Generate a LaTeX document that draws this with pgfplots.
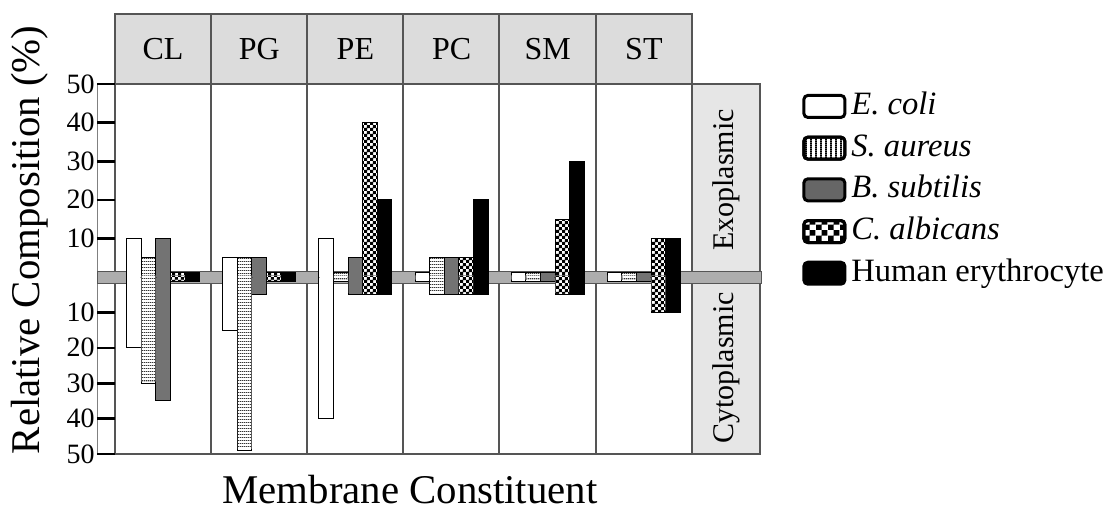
\documentclass[border=0pt]{standalone}
\usepackage{pgfplots}
\pgfplotsset{compat=1.18}
\usepackage{pgfplotstable}
\usepackage{fontspec}
\setmainfont{Liberation Serif}
\usetikzlibrary{patterns}

\pgfdeclarepatternformonly{finehlines}{\pgfqpoint{0pt}{0pt}}{\pgfqpoint{1pt}{1.7pt}}{\pgfqpoint{1pt}{1.7pt}}{%
  \pgfpathrectangle{\pgfqpoint{-0.1pt}{0pt}}{\pgfqpoint{1.2pt}{0.55pt}}\pgfusepath{fill}}
\pgfdeclarepatternformonly{finechecker}{\pgfpointorigin}{\pgfqpoint{3.2pt}{3.2pt}}{\pgfqpoint{3.2pt}{3.2pt}}{%
  \pgfpathrectangle{\pgfpointorigin}{\pgfqpoint{1.65pt}{1.65pt}}%
  \pgfpathrectangle{\pgfqpoint{1.6pt}{1.6pt}}{\pgfqpoint{1.65pt}{1.65pt}}\pgfusepath{fill}}
\pgfdeclarepatternformonly{legvlines}{\pgfpointorigin}{\pgfqpoint{2.3pt}{1pt}}{\pgfqpoint{2.3pt}{1pt}}{%
  \pgfpathrectangle{\pgfqpoint{0pt}{-0.1pt}}{\pgfqpoint{1pt}{1.2pt}}\pgfusepath{fill}}
\pgfdeclarepatternformonly{legchecker}{\pgfpointorigin}{\pgfqpoint{6pt}{5.4pt}}{\pgfqpoint{6pt}{5.4pt}}{%
  \pgfpathrectangle{\pgfpointorigin}{\pgfqpoint{3pt}{2.7pt}}%
  \pgfpathrectangle{\pgfqpoint{3pt}{2.7pt}}{\pgfqpoint{3pt}{2.7pt}}\pgfusepath{fill}}

\definecolor{hdr}{HTML}{DCDCDC}
\definecolor{side}{HTML}{E6E6E6}
\definecolor{bandc}{HTML}{ADADAD}
\definecolor{frm}{HTML}{555555}
\definecolor{bsub}{HTML}{737373}
\definecolor{legbsub}{HTML}{666666}

% exoplasmic (upper) portions, %
\pgfplotstableread{
x ecoli saureus bsub calb human
0 10  5    10  1.2 1.2
1 5   5    5   1.2 1.2
2 10  1.2  5   40  20
3 1.2 5    5   5   20
4 1.2 1.2  1.2 15  30
5 1.2 1.2  1.2 10  10
}\exo
% cytoplasmic (lower) portions, %
\pgfplotstableread{
x ecoli saureus bsub calb human
0 20  30   35  1.2 1.2
1 15  49   5   1.2 1.2
2 40  1.2  5   5   5
3 1.2 5    5   5   5
4 1.2 1.2  1.2 5   5
5 1.2 1.2  1.2 10  10
}\cyto

\pgfplotsset{
  barbase/.style={ybar, bar width=0.152, draw=black, line width=0.5pt, forget plot},
  fEcoli/.style={fill=white},
  fSaur/.style={fill=white, postaction={pattern=finehlines, pattern color=black!80}},
  fBsub/.style={fill=bsub},
  fCalb/.style={fill=white, postaction={pattern=finechecker}},
  fHuman/.style={fill=black},
  sEcoli/.style={barbase, bar shift=-0.304, fEcoli},
  sSaur/.style={barbase, bar shift=-0.152, fSaur},
  sBsub/.style={barbase, bar shift=0, fBsub},
  sCalb/.style={barbase, bar shift=0.152, fCalb},
  sHuman/.style={barbase, bar shift=0.304, fHuman},
  % fill-only pass that hides the seam at the membrane line
  seam/.style={ybar, bar width=0.1415, draw=none, forget plot, yshift=0.8pt},
  panelaxis/.style={
    scale only axis, width=288.5pt,
    xmin=-0.5, xmax=5.5, ymin=0, ymax=50,
    axis line style={draw=none},
    ytick={10,20,30,40,50}, ytick pos=left,
    tick align=outside, major tick length=9pt,
    major tick style={black, line width=1.3pt},
    every major x tick/.append style={draw=none},
    every x tick/.append style={draw=none},
    yticklabel style={font=\fontsize{14}{16}\selectfont, inner sep=0pt, xshift=-1pt},
    /pgf/number format/assume math mode=true,
  },
}

\begin{document}
\begin{tikzpicture}
\begin{scope}[x=0.5pt,y=-0.5pt]
\path (0,0) rectangle (1111,511);
% header boxes
\foreach \a/\b in {115/211,211/307,307/403,403/499,499/596,596/692}
  \draw[frm, line width=0.7pt, fill=hdr] (\a,14) rectangle (\b,84);
% panel dividers and frame
\foreach \a in {211,307,403,499,596} \draw[frm, line width=0.7pt] (\a,84)--(\a,454);
\draw[frm, line width=0.7pt] (115,84) rectangle (692,454);
% side panel
\draw[frm, line width=0.7pt, fill=side] (692,84) rectangle (760,454);
% ruler strip
\draw[gray, line width=0.5pt] (97,84)--(97,454);
% membrane band
\draw[frm, line width=0.5pt, fill=bandc] (97,271.5) rectangle (761,283);
% side labels
\node[rotate=90, font=\fontsize{15}{18}\selectfont] at (726,180) {Exoplasmic};
\node[rotate=90, font=\fontsize{15}{18}\selectfont] at (726,368) {Cytoplasmic};
% axis titles
\node[rotate=90, font=\fontsize{20.4}{24}\selectfont] at (30,240) {Relative Composition (\%)};
\node[font=\fontsize{20.4}{24}\selectfont] at (410,490) {Membrane Constituent};
\end{scope}

\begin{axis}[panelaxis, at={(57.5pt,-138.5pt)}, anchor=south west, height=96.5pt,
  xtick={0,1,2,3,4,5}, xticklabels={CL,PG,PE,PC,SM,ST}, xticklabel pos=right, xtick pos=right,
  xticklabel style={anchor=center, font=\fontsize{16}{19}\selectfont, yshift=8.5pt},
  legend style={at={(rel axis cs:1.1906,0.9637)}, anchor=north west, draw=none, fill=none,
    inner sep=0pt, font=\fontsize{16.3}{19}\selectfont, row sep=5.85pt,
    nodes={inner sep=0pt, text height=11.5pt, text depth=3.5pt},
    /tikz/every odd column/.append style={column sep=2.5pt}},
  legend cell align=left,
]
\addplot[sEcoli] table[x=x,y=ecoli]{\exo};
\addplot[sSaur] table[x=x,y=saureus]{\exo};
\addplot[sBsub] table[x=x,y=bsub]{\exo};
\addplot[sCalb] table[x=x,y=calb]{\exo};
\addplot[sHuman] table[x=x,y=human]{\exo};
\addlegendimage{legend image code/.code={\draw[line width=1.5pt, rounded corners=2pt, fill=white] (0pt,-5.5pt) rectangle (20.5pt,5.5pt);}}
\addlegendentry{\textit{E. coli}}
\addlegendimage{legend image code/.code={\draw[line width=1.5pt, rounded corners=2pt, fill=white, postaction={pattern=legvlines}] (0pt,-5.5pt) rectangle (20.5pt,5.5pt);}}
\addlegendentry{\textit{S. aureus}}
\addlegendimage{legend image code/.code={\draw[line width=1.5pt, rounded corners=2pt, fill=legbsub] (0pt,-5.5pt) rectangle (20.5pt,5.5pt);}}
\addlegendentry{\textit{B. subtilis}}
\addlegendimage{legend image code/.code={\draw[line width=1.5pt, rounded corners=2pt, fill=white, postaction={pattern=legchecker}] (0pt,-5.5pt) rectangle (20.5pt,5.5pt);}}
\addlegendentry{\textit{C. albicans}}
\addlegendimage{legend image code/.code={\draw[line width=1.5pt, rounded corners=2pt, fill=black] (0pt,-5.5pt) rectangle (20.5pt,5.5pt);}}
\addlegendentry{Human erythrocyte}
\end{axis}

\begin{axis}[panelaxis, at={(57.5pt,-138.5pt)}, anchor=north west, height=88.5pt, y dir=reverse,
  xtick=\empty, clip=false]
\addplot[sEcoli] table[x=x,y=ecoli]{\cyto};
\addplot[sSaur] table[x=x,y=saureus]{\cyto};
\addplot[sBsub] table[x=x,y=bsub]{\cyto};
\addplot[sCalb] table[x=x,y=calb]{\cyto};
\addplot[sHuman] table[x=x,y=human]{\cyto};
\addplot[seam, bar shift=-0.304, fEcoli] table[x=x,y=ecoli]{\cyto};
\addplot[seam, bar shift=-0.152, fSaur] table[x=x,y=saureus]{\cyto};
\addplot[seam, bar shift=0, fBsub] table[x=x,y=bsub]{\cyto};
\addplot[seam, bar shift=0.152, fCalb] table[x=x,y=calb]{\cyto};
\addplot[seam, bar shift=0.304, fHuman] table[x=x,y=human]{\cyto};
\end{axis}
\end{tikzpicture}
\end{document}
